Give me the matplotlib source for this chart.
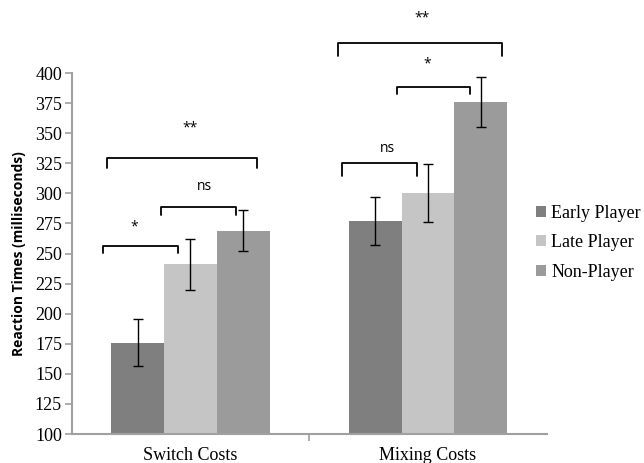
import matplotlib
matplotlib.use("Agg")
import matplotlib.pyplot as plt
import numpy as np

categories = ["Switch Costs", "Mixing Costs"]
series = ["Early Player", "Late Player", "Non-Player"]
means = {
    "Early Player": [176, 277],
    "Late Player": [241, 300],
    "Non-Player": [269, 376],
}
errors = {
    "Early Player": [19.5, 20],
    "Late Player": [21, 24],
    "Non-Player": [17, 21],
}
colors = ["#7f7f7f", "#c4c5c4", "#9a9b9a"]

# significance brackets: (x_left, x_right, y_top, drop, label, label_x, label_y)
brackets = [
    (-0.369, -0.052, 256.3, 6.0, "*", -0.237, 272),
    (-0.125, 0.1905, 289.0, 7.0, "ns", 0.061, 305.6),
    (-0.350, 0.2815, 329.2, 8.3, "**", -0.002, 354.4),
    (0.637, 0.953, 325.5, 11.0, "ns", 0.830, 337.5),
    (0.868, 1.177, 388.7, 6.1, "*", 0.997, 407.3),
    (0.623, 1.311, 425.3, 11.1, "**", 0.976, 445.6),
]

fig = plt.figure(figsize=(6.44, 4.63), dpi=100)
ax = fig.add_axes([0.1113, 0.0626, 0.849 - 0.1113, 0.8423 - 0.0626])

w = 1 / 4.5
x = np.arange(len(categories))
for i, s in enumerate(series):
    ax.bar(x + (i - 1) * w, means[s], w, color=colors[i], label=s,
           yerr=errors[s], capsize=3.5,
           error_kw=dict(ecolor="black", elinewidth=1, capthick=1), zorder=2)

ax.set_xlim(-0.5, 1.5)
ax.set_ylim(100, 400)
ax.set_yticks(np.arange(100, 401, 25))
ax.set_xticks(x)
ax.set_xticklabels(categories)
ax.set_xticks([0.5], minor=True)
ax.tick_params(axis="x", which="major", length=0, pad=9)
ax.tick_params(axis="x", which="minor", length=5, color="#a0a0a0", width=1.2)
ax.tick_params(axis="y", length=5, color="#a0a0a0", width=1.2, pad=2)
for lab in ax.get_xticklabels() + ax.get_yticklabels():
    lab.set_fontfamily("Liberation Serif")
    lab.set_fontsize(13)
for sp in ["top", "right"]:
    ax.spines[sp].set_visible(False)
for sp in ["left", "bottom"]:
    ax.spines[sp].set_color("#a0a0a0")
    ax.spines[sp].set_linewidth(1.5)

ax.set_ylabel("Reaction Times (milliseconds)", fontfamily="Open Sans",
              fontweight="bold", fontsize=10, labelpad=6)

for xl, xr, yt, d, lab, lx, ly in brackets:
    ax.plot([xl, xl, xr, xr], [yt - d, yt, yt, yt - d], color="black",
            lw=1.3, solid_capstyle="round", solid_joinstyle="round",
            clip_on=False, zorder=3)
    ax.text(lx, ly, lab, ha="center", va="center", fontsize=10,
            fontfamily="Open Sans", clip_on=False)

leg = ax.legend(loc="center left", bbox_to_anchor=(0.9775, 0.53),
                frameon=False, prop=dict(family="Liberation Serif", size=13),
                handlelength=0.55, handleheight=0.55, handletextpad=0.3,
                labelspacing=0.7, borderpad=0, borderaxespad=0)

fig.savefig("out.png", dpi=100)
